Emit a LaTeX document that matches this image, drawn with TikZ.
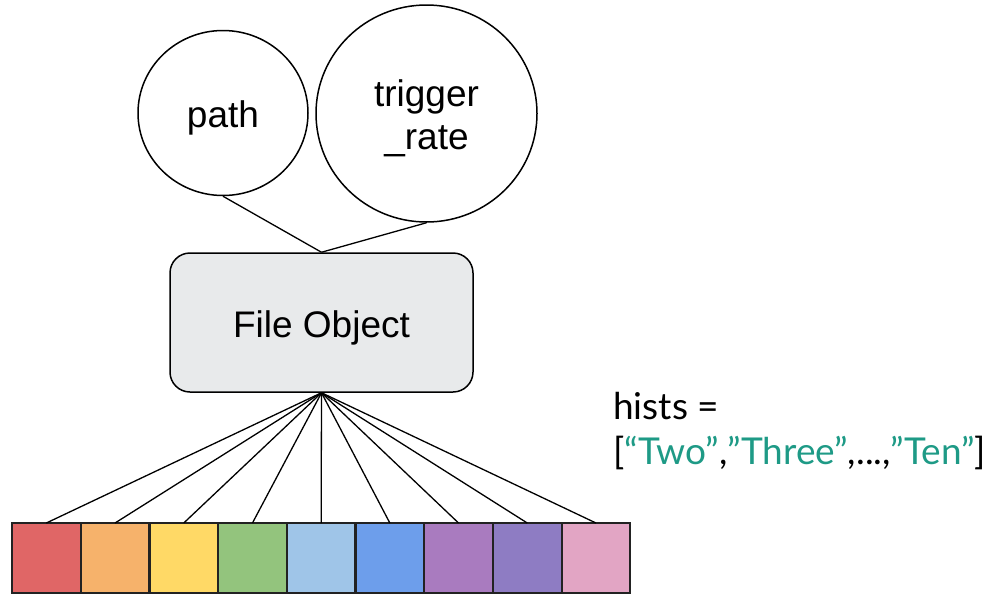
\documentclass[tikz,border=0pt]{standalone}
\usepackage{fontspec}
\setmainfont{Liberation Sans}
\newfontfamily\latofont{Lato}
\definecolor{edge}{HTML}{222222}
\definecolor{boxfill}{HTML}{E8EAEB}
\definecolor{teal}{HTML}{1E9A86}
\definecolor{c1}{HTML}{E06666}
\definecolor{c2}{HTML}{F6B26B}
\definecolor{c3}{HTML}{FFD966}
\definecolor{c4}{HTML}{93C47D}
\definecolor{c5}{HTML}{9FC5E8}
\definecolor{c6}{HTML}{6D9EEB}
\definecolor{c7}{HTML}{A97BBF}
\definecolor{c8}{HTML}{8E7CC3}
\definecolor{c9}{HTML}{E2A5C4}
% lower a label a little while keeping its box dimensions for centering
\newcommand{\lowered}[1]{\raisebox{-6pt}[\height][\depth]{\begin{tabular}{@{}c@{}}#1\end{tabular}}}
\tikzset{
  attr/.style={draw=black, line width=1.5pt, ellipse, inner sep=0pt, align=center,
               font=\fontsize{37}{43}\selectfont},
  fileobj/.style={draw=black, line width=1.5pt, fill=boxfill, rounded corners=20pt,
                  minimum width=303pt, minimum height=139pt,
                  font=\fontsize{37}{43}\selectfont},
  cell/.style={draw=edge, line width=2.2pt, minimum width=68.7pt, minimum height=70pt,
               inner sep=0pt, outer sep=0pt},
  link/.style={draw=black, line width=1.3pt},
}
\usetikzlibrary{shapes.geometric}
\begin{document}
\begin{tikzpicture}[x=1pt,y=-1pt]
  \useasboundingbox (0,0) rectangle (990,595);
  % attribute bubbles
  \node[attr, minimum width=170pt, minimum height=165pt] (path) at (223,113)
       {\lowered{path}};
  \node[attr, minimum width=221pt, minimum height=217pt] (rate) at (426.5,113.5)
       {\lowered{trigger\\\_rate}};
  % the file object
  \node[fileobj] (file) at (321.5,322.5) {\lowered{File Object}};
  \draw[link] (path.south) -- (file.north);
  \draw[link] (rate.south) -- (file.north);
  % histogram cells
  \foreach \i in {1,...,9} {
    \node[cell, fill=c\i] (h\i) at ({12+68.7*(\i-0.5)},558) {};
  }
  \foreach \i in {1,...,9} {
    \draw[link] (file.south) -- (h\i.north);
  }
  % list of histogram names
  \node[anchor=north west, align=left, inner sep=0pt,
        font=\latofont\fontsize{37}{45}\selectfont] (hists) at (613,392)
    {hists =\\{[}\textcolor{teal}{“Two”},\textcolor{teal}{”Three”},...,\textcolor{teal}{”Ten”}{]}};
\end{tikzpicture}
\end{document}
